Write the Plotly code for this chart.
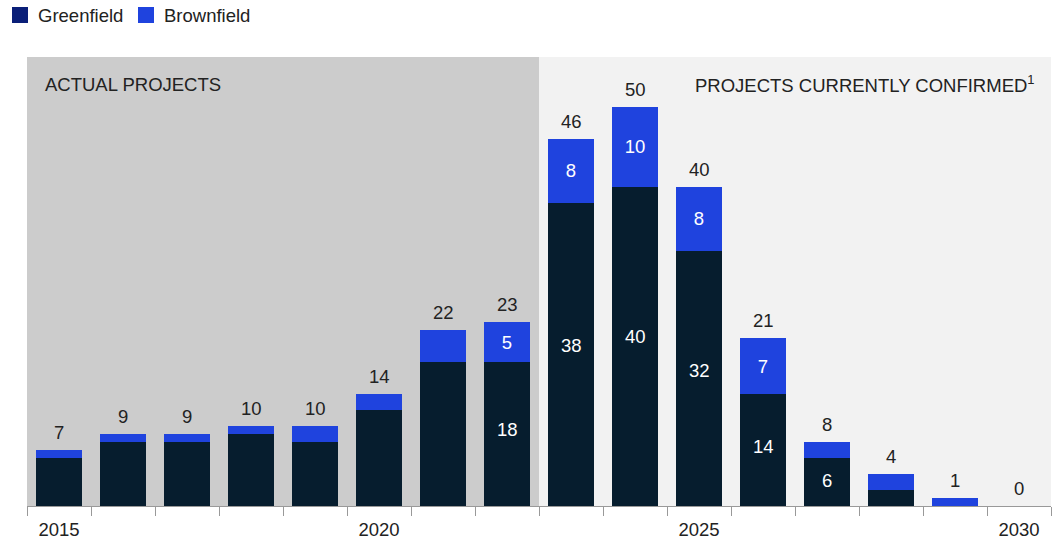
import plotly.graph_objects as go

# Project counts per year
years = [str(y) for y in range(2015, 2031)]
greenfield = [6, 8, 8, 9, 8, 12, 18, 18, 38, 40, 32, 14, 6, 2, 0, 0]
brownfield = [1, 1, 1, 1, 2, 2, 4, 5, 8, 10, 8, 7, 2, 2, 1, 0]
totals = [g + b for g, b in zip(greenfield, brownfield)]

# In-bar labels (shown only where space allows)
green_labels = ["", "", "", "", "", "", "", "18", "38", "40", "32", "14", "6", "", "", ""]
brown_labels = ["", "", "", "", "", "", "", "5", "8", "10", "8", "7", "", "", "", ""]
year_ticks = ["2015", "", "", "", "", "2020", "", "", "", "", "2025", "", "", "", "", "2030"]

GREEN = "#061D2E"
BROWN = "#1F43DE"
LEGEND_GREEN = "#0A1F78"
FONT = "Liberation Sans, Arial, sans-serif"
TXT = "#222222"
FS = 18.5

fig = go.Figure()
fig.add_trace(go.Bar(
    x=years, y=greenfield, name="Greenfield", marker=dict(color=GREEN, line_width=0),
    hoverinfo="x+y", showlegend=False,
))
fig.add_trace(go.Bar(
    x=years, y=brownfield, name="Brownfield", marker=dict(color=BROWN, line_width=0),
    text=brown_labels, textposition="inside", insidetextanchor="middle",
    textangle=0, textfont=dict(color="white", size=FS, family=FONT),
    hoverinfo="x+y", showlegend=False,
))

# Greenfield labels, set a little above the middle of each segment
for i, (g, lab) in enumerate(zip(greenfield, green_labels)):
    if lab:
        fig.add_annotation(x=i, y=g * 0.53, text=lab, showarrow=False,
                           yanchor="middle",
                           font=dict(size=FS, color="white", family=FONT))

# Totals above each stack (x given as category index)
for i, t in enumerate(totals):
    fig.add_annotation(x=i, y=t, text=str(t), showarrow=False,
                       yanchor="bottom", yshift=5,
                       font=dict(size=FS, color=TXT, family=FONT))

# Background panels: actual vs confirmed
fig.add_shape(type="rect", xref="x", yref="paper", x0=-0.5, x1=7.5, y0=0, y1=1,
              fillcolor="#CCCCCC", line_width=0, layer="below")
fig.add_shape(type="rect", xref="x", yref="paper", x0=7.5, x1=15.5, y0=0, y1=1,
              fillcolor="#F2F2F2", line_width=0, layer="below")

fig.add_annotation(xref="paper", yref="paper", x=0.0155, y=0.938, text="ACTUAL PROJECTS",
                   showarrow=False, xanchor="left", yanchor="middle",
                   font=dict(size=FS, color=TXT, family=FONT))
fig.add_annotation(xref="paper", yref="paper", x=0.986, y=0.94,
                   text="PROJECTS CURRENTLY CONFIRMED<sup>1</sup>",
                   showarrow=False, xanchor="right", yanchor="middle",
                   font=dict(size=FS, color=TXT, family=FONT))

# Custom legend
for x0, color, label in [(12, LEGEND_GREEN, "Greenfield"), (138, BROWN, "Brownfield")]:
    fig.add_shape(type="rect", xref="paper", yref="paper",
                  x0=(x0 - 27) / 1024, x1=(x0 + 16 - 27) / 1024,
                  y0=(506 - 23) / 449, y1=(506 - 7) / 449,
                  fillcolor=color, line_width=0)
    fig.add_annotation(xref="paper", yref="paper", x=(x0 + 24 - 27) / 1024,
                       y=(506 - 15) / 449, text=label, showarrow=False,
                       xanchor="left", yanchor="middle",
                       font=dict(size=FS, color=TXT, family=FONT))

fig.update_layout(
    barmode="stack", bargap=0.27,
    width=1056, height=543,
    margin=dict(l=27, r=5, t=57, b=37, autoexpand=False),
    paper_bgcolor="white", plot_bgcolor="white",
    font=dict(family=FONT, color=TXT),
    xaxis=dict(type="category", tickmode="array", tickvals=years, ticktext=year_ticks,
               ticks="outside", tickson="boundaries", ticklen=9, tickcolor="#999999",
               ticklabelstandoff=7, automargin=False,
               showline=True, linecolor="#999999", linewidth=1,
               showgrid=False, tickfont=dict(size=FS, color=TXT, family=FONT),
               range=[-0.5, 15.5]),
    yaxis=dict(range=[0, 56.27], visible=False, showgrid=False),
)

fig.write_html("out.html")
